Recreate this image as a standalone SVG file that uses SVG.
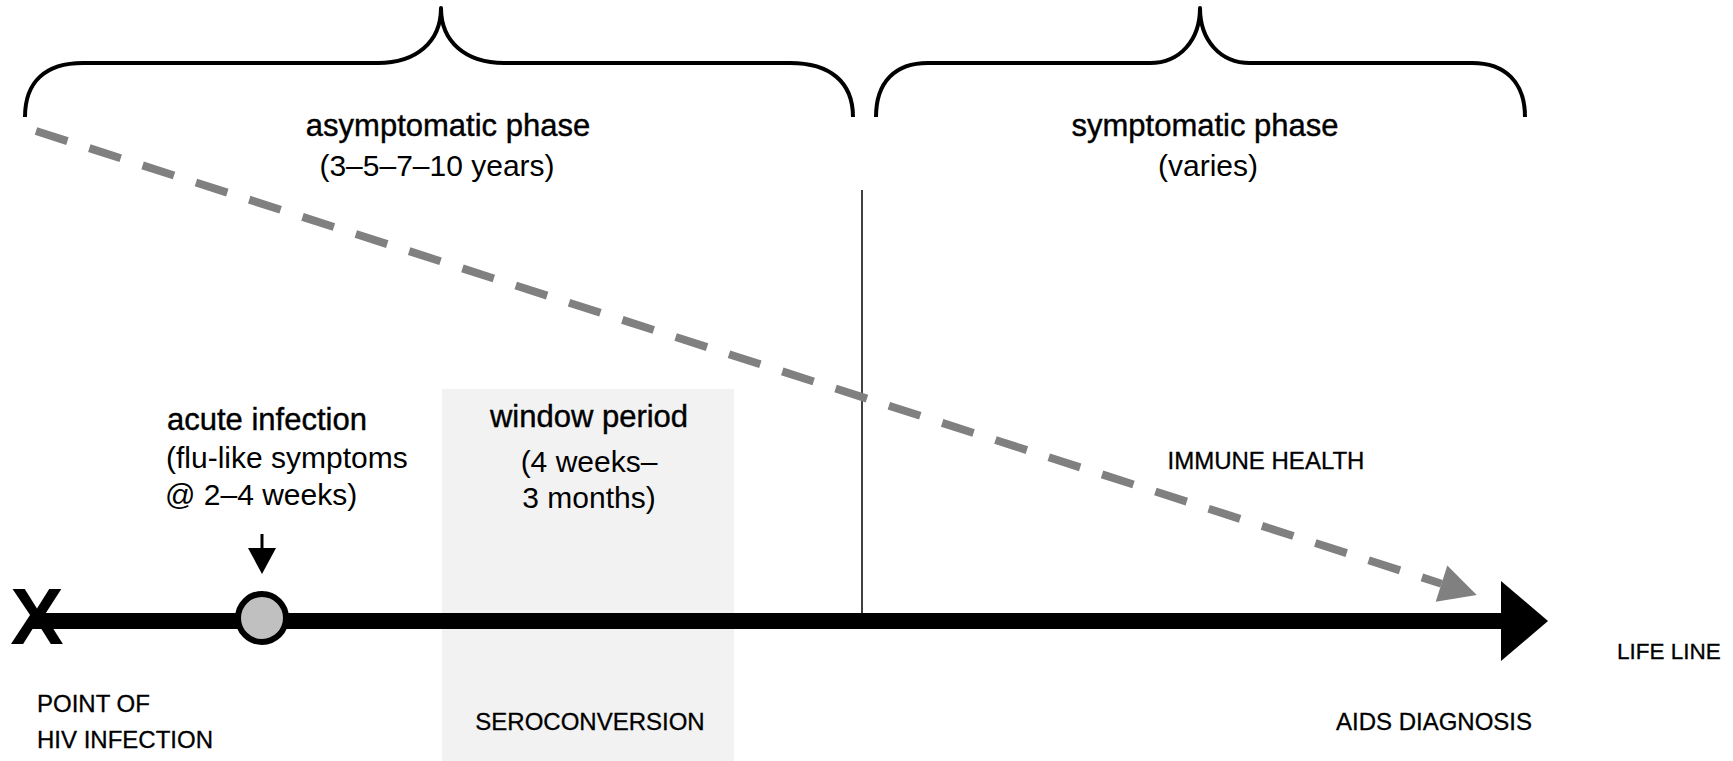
<svg xmlns="http://www.w3.org/2000/svg" width="1733" height="761" viewBox="0 0 1733 761">
<style>
text{font-family:"Liberation Sans",Arial,sans-serif;fill:#000}
.title{font-size:31px;stroke:#000;stroke-width:0.4}
.sub{font-size:30px}
.cap{font-size:24px;stroke:#000;stroke-width:0.3}
.brace{fill:none;stroke:#000;stroke-width:4;stroke-linejoin:round}
.mid{text-anchor:middle}
</style>
<defs>
<marker id="grayHead" markerUnits="userSpaceOnUse" markerWidth="40" markerHeight="40" viewBox="0 -20 38 40" refX="0" refY="0" orient="auto">
<path d="M0,-19 L37,0 L0,19 z" fill="#808080"/>
</marker>
<marker id="blackHead" markerUnits="userSpaceOnUse" markerWidth="50" markerHeight="82" viewBox="0 -41 48 82" refX="0" refY="0" orient="auto">
<path d="M0,-40 L47,0 L0,40 z" fill="#000"/>
</marker>
<marker id="smallHead" markerUnits="userSpaceOnUse" markerWidth="30" markerHeight="30" viewBox="0 -15 27 30" refX="0" refY="0" orient="auto">
<path d="M0,-14 L26,0 L0,14 z" fill="#000"/>
</marker>
</defs>
<rect id="window-band" x="442" y="389" width="292" height="372" fill="#f2f2f2"/>
<g id="brace-asymptomatic">
<path class="brace" d="M25,117 C25,82 45,63 83,63 L378,63 C416,63 441,42 441,8 C441,42 466,63 504,63 L790,63 C830,63 853,82 853,117"/>
<text class="title mid" x="448" y="136">asymptomatic phase</text>
<text class="sub mid" x="437" y="176">(3–5–7–10 years)</text>
</g>
<g id="brace-symptomatic">
<path class="brace" d="M876,117 C876,82 895,63 928,63 L1150,63 C1180,63 1200,40 1200,8 C1200,40 1220,63 1250,63 L1472,63 C1505,63 1525,82 1525,117"/>
<text class="title mid" x="1205" y="136">symptomatic phase</text>
<text class="sub mid" x="1208" y="176">(varies)</text>
</g>
<g id="window-period">
<text class="title mid" x="589" y="427">window period</text>
<text class="sub mid" x="589" y="472">(4 weeks–</text>
<text class="sub mid" x="589" y="508">3 months)</text>
<text class="cap mid" x="590" y="730">SEROCONVERSION</text>
</g>
<g id="acute-infection">
<text class="title" x="167" y="430">acute infection</text>
<text class="sub" x="166" y="468">(flu-like symptoms</text>
<text class="sub" x="165" y="505">@ 2–4 weeks)</text>
</g>
<g id="immune-health">
<text class="cap mid" x="1266" y="469">IMMUNE HEALTH</text>
</g>
<g id="point-of-infection">
<text class="cap" x="37" y="712">POINT OF</text>
<text class="cap" x="37" y="748">HIV INFECTION</text>
</g>
<g id="aids-diagnosis">
<text class="cap mid" x="1434" y="730">AIDS DIAGNOSIS</text>
</g>
<g id="life-line-label">
<text class="cap" x="1617" y="659" style="font-size:22.5px">LIFE LINE</text>
</g>
<g id="connectors">
<line x1="862" y1="190" x2="862" y2="614" stroke="#000" stroke-width="1.5"/>
<line x1="36" y1="131" x2="1441.5" y2="583.7" stroke="#808080" stroke-width="8" stroke-dasharray="33 23" marker-end="url(#grayHead)"/>
<line x1="30" y1="621" x2="1501" y2="621" stroke="#000" stroke-width="16" marker-end="url(#blackHead)"/>
<line x1="262" y1="534" x2="262" y2="548" stroke="#000" stroke-width="3" marker-end="url(#smallHead)"/>
</g>
<g id="point-x">
<text x="37" y="644" style="font-size:80px;font-weight:bold" text-anchor="middle">X</text>
</g>
<g id="acute-marker">
<circle cx="262" cy="618" r="24" fill="#c0c0c0" stroke="#000" stroke-width="6"/>
</g>
</svg>
